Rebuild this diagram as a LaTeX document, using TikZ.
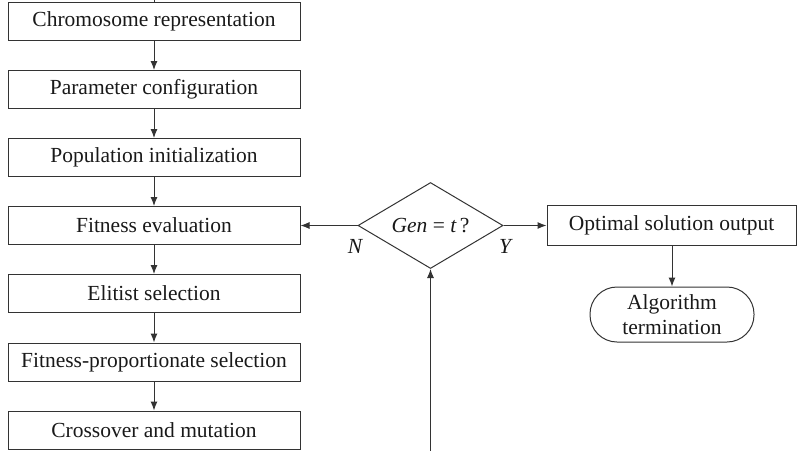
\documentclass[tikz,border=0pt]{standalone}
\usepackage{fontspec}
\setmainfont{Liberation Serif}
\usetikzlibrary{arrows.meta,shapes.geometric}
\begin{document}
\begin{tikzpicture}[x=1pt,y=-1pt,
  every node/.style={font=\fontsize{21.5}{25}\selectfont, text=black!90},
  flowbox/.style={draw=black!80, line width=1pt, minimum width=292pt, minimum height=38pt, inner sep=0pt},
  decision/.style={draw=black!80, line width=1pt, diamond, aspect=1.69, minimum width=145pt, minimum height=86pt, inner sep=0pt},
  outbox/.style={draw=black!80, line width=1pt, minimum width=249pt, minimum height=40pt, inner sep=0pt},
  termbox/.style={draw=black!80, line width=1pt, rounded corners=27pt, minimum width=164pt, minimum height=55pt, inner sep=0pt, align=center, font=\fontsize{21.5}{25}\selectfont},
  flow/.style={draw=black!80, line width=1pt, -{Latex[length=9pt,width=7pt]}},
  plain/.style={draw=black!80, line width=1pt},
  branch/.style={font=\fontsize{21.5}{25}\selectfont\itshape}
]
\useasboundingbox (0,0) rectangle (800,450);

\node[flowbox] (b1) at (154,21.5) {Chromosome representation};
\node[flowbox] (b2) at (154,89.5) {Parameter configuration};
\node[flowbox] (b3) at (154,157.5) {Population initialization};
\node[flowbox] (b4) at (154,225.5) {Fitness evaluation};
\node[flowbox] (b5) at (154,293.5) {Elitist selection};
\node[flowbox] (b6) at (154,362) {Fitness-proportionate selection};
\node[flowbox] (b7) at (154,430) {Crossover and mutation};

\node[decision] (d) at (430.5,225.5) {{\itshape Gen} = {\itshape t}\,?};
\node[outbox] (o) at (671.5,225.5) {Optimal solution output};
\node[termbox] (t) at (672,314.5) {Algorithm\\termination};

\node[branch] (n) at (355,246) {N};
\node[branch] (y) at (505,246) {Y};

\coordinate (top) at (154,-5);
\coordinate (loop) at (430.5,455);

\draw[plain] (top) -- (b1.north);
\draw[flow] (b1) -- (b2);
\draw[flow] (b2) -- (b3);
\draw[flow] (b3) -- (b4);
\draw[flow] (b4) -- (b5);
\draw[flow] (b5) -- (b6);
\draw[flow] (b6) -- (b7);
\draw[flow] (d.west) -- (b4.east);
\draw[flow] (d.east) -- (o.west);
\draw[flow] (o.south -| t.north) -- (t.north);
\draw[flow] (loop) -- (d.south);
\end{tikzpicture}
\end{document}
